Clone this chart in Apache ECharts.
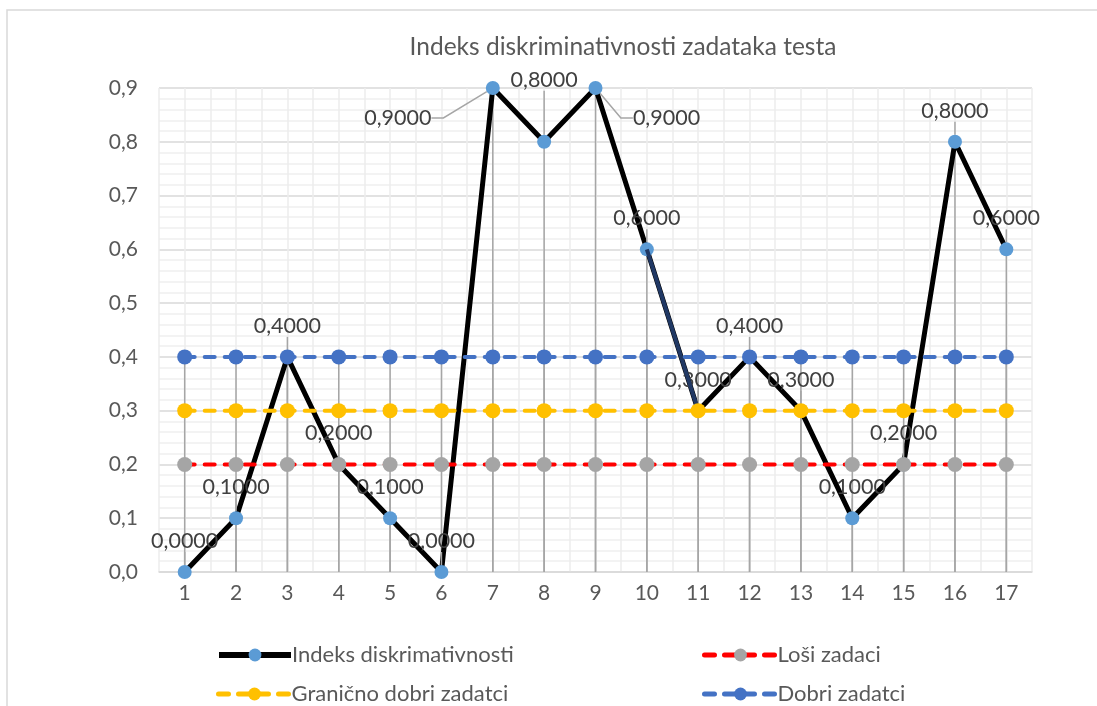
<!DOCTYPE html>
<html>
<head>
<meta charset="utf-8">
<script src="https://cdn.jsdelivr.net/npm/echarts@6/dist/echarts.min.js"></script>
<style>
  html, body { margin: 0; padding: 0; background: #fff; }
  #chart { width: 1097px; height: 706px; }
</style>
</head>
<body>
<div id="chart"></div>
<script>
const categories = ['1', '2', '3', '4', '5', '6', '7', '8', '9', '10', '11', '12', '13', '14', '15', '16', '17'];
const indeks = [0, 0.1, 0.4, 0.2, 0.1, 0, 0.9, 0.8, 0.9, 0.6, 0.3, 0.4, 0.3, 0.1, 0.2, 0.8, 0.6];
const losi = [0.2, 0.2, 0.2, 0.2, 0.2, 0.2, 0.2, 0.2, 0.2, 0.2, 0.2, 0.2, 0.2, 0.2, 0.2, 0.2, 0.2];
const granicno = [0.3, 0.3, 0.3, 0.3, 0.3, 0.3, 0.3, 0.3, 0.3, 0.3, 0.3, 0.3, 0.3, 0.3, 0.3, 0.3, 0.3];
const dobri = [0.4, 0.4, 0.4, 0.4, 0.4, 0.4, 0.4, 0.4, 0.4, 0.4, 0.4, 0.4, 0.4, 0.4, 0.4, 0.4, 0.4];
const yTicks = [0, 0.1, 0.2, 0.3, 0.4, 0.5, 0.6, 0.7, 0.8, 0.9];

const FONT = 'Lato';
const TXT = '#595959';

const chart = echarts.init(document.getElementById('chart'));

// label moves for the crowded peaks (dataIndex -> offset)
const labelMoves = {
  6: { dx: -95, dy: 61 },
  7: { dx: 0, dy: -31 },
  8: { dx: 71, dy: 61 }
};

// the one segment Excel drew in navy (10 -> 11)
const navySeg = indeks.map((v, i) => (i === 9 || i === 10) ? v : null);

// drop lines from a point down to the axis
function dropLines(values) {
  return {
    type: 'custom',
    xAxisIndex: 0,
    z: 1,
    silent: true,
    data: values.map((v, i) => [i, v]),
    renderItem: function (params, api) {
      const top = api.coord([api.value(0), api.value(1)]);
      const bot = api.coord([api.value(0), 0]);
      return {
        type: 'line',
        shape: { x1: top[0], y1: top[1], x2: bot[0], y2: bot[1] },
        style: { stroke: '#a6a6a6', lineWidth: 1.5 }
      };
    }
  };
}

const dashed = (color) => ({ color: color, width: 4, type: [10, 10], cap: 'round' });

const legendBase = {
  itemWidth: 72, itemHeight: 16, itemGap: 0,
  textStyle: { fontFamily: FONT, fontSize: 22, color: TXT, padding: [0, 0, 0, -4] }
};

const option = {
  animation: false,
  textStyle: { fontFamily: FONT },
  graphic: [{
    type: 'rect',
    shape: { x: 7, y: 10, width: 1200, height: 800 },
    style: { fill: 'none', stroke: '#d9d9d9', lineWidth: 1.5 },
    silent: true
  }],
  title: {
    text: 'Indeks diskriminativnosti zadataka testa',
    left: 618, top: 30, textAlign: 'center',
    textStyle: { fontFamily: FONT, fontSize: 24.5, fontWeight: 'normal', color: TXT }
  },
  legend: [
    { data: ['Indeks diskrimativnosti'], left: 211, top: 639, lineStyle: { width: 6 } },
    { data: ['Loši zadaci'], left: 697, top: 639, lineStyle: { width: 5 } },
    { data: ['Granično dobri zadatci'], left: 211, top: 678, lineStyle: { width: 5 } },
    { data: ['Dobri zadatci'], left: 697, top: 678, lineStyle: { width: 5 } }
  ].map(l => Object.assign({}, legendBase, l)),
  grid: { left: 159, right: 65, top: 88, bottom: 134 },
  xAxis: [{
    type: 'category',
    data: categories,
    boundaryGap: true,
    axisLine: { lineStyle: { color: '#d9d9d9', width: 1.5 } },
    axisTick: { show: false },
    axisLabel: { color: TXT, fontSize: 21, fontFamily: FONT, margin: 11 },
    splitLine: { show: false }
  }, {
    type: 'value',
    min: 0.5, max: 17.5, interval: 0.5,
    position: 'bottom',
    axisLine: { show: false },
    axisTick: { show: false },
    axisLabel: { show: false },
    splitLine: { show: true, lineStyle: { color: '#ececec', width: 1.5 } }
  }],
  yAxis: {
    type: 'value',
    min: 0, max: 0.9, interval: 0.1,
    axisLine: { show: false },
    axisTick: { show: false },
    axisLabel: {
      color: TXT, fontSize: 21, fontFamily: FONT, margin: 21,
      formatter: v => {
        const t = yTicks.find(x => Math.abs(x - v) < 1e-9);
        return (t !== undefined ? t : v).toFixed(1).replace('.', ',');
      }
    },
    splitLine: { lineStyle: { color: '#d9d9d9', width: 1.5 } },
    minorTick: { show: false, splitNumber: 5 },
    minorSplitLine: { show: true, lineStyle: { color: '#f0f0f0', width: 1.5 } }
  },
  series: [
    dropLines(indeks),
    dropLines(dobri),
    {
      name: 'Indeks diskrimativnosti',
      type: 'line',
      data: indeks,
      z: 2,
      symbol: 'circle', symbolSize: 14,
      lineStyle: { color: '#000', width: 5 },
      itemStyle: { color: '#5b9bd5' },
      label: {
        show: true, position: 'top', distance: 13,
        color: '#404040', fontSize: 21.5, fontFamily: FONT,
        formatter: p => p.value.toFixed(4).replace('.', ',')
      },
      labelLine: { show: true, lineStyle: { color: '#a6a6a6', width: 1.5 }, length2: 12 },
      labelLayout: function (p) {
        const m = labelMoves[p.dataIndex];
        if (!m) return {};
        return { dx: m.dx, dy: m.dy, hideOverlap: false };
      }
    },
    {
      name: 'navy',
      type: 'line',
      data: navySeg,
      z: 3,
      symbol: 'none',
      connectNulls: false,
      lineStyle: { color: '#203864', width: 4 },
      silent: true,
      legendHoverLink: false
    },
    {
      name: 'Loši zadaci',
      type: 'line',
      data: losi,
      z: 4,
      symbol: 'circle', symbolSize: 15,
      lineStyle: dashed('#ff0000'),
      itemStyle: { color: '#a5a5a5' }
    },
    {
      name: 'Granično dobri zadatci',
      type: 'line',
      data: granicno,
      z: 4,
      symbol: 'circle', symbolSize: 15,
      lineStyle: dashed('#ffc000'),
      itemStyle: { color: '#ffc000' }
    },
    {
      name: 'Dobri zadatci',
      type: 'line',
      data: dobri,
      z: 4,
      symbol: 'circle', symbolSize: 15,
      lineStyle: dashed('#4472c4'),
      itemStyle: { color: '#4472c4' }
    }
  ]
};

chart.setOption(option);
</script>
</body>
</html>
